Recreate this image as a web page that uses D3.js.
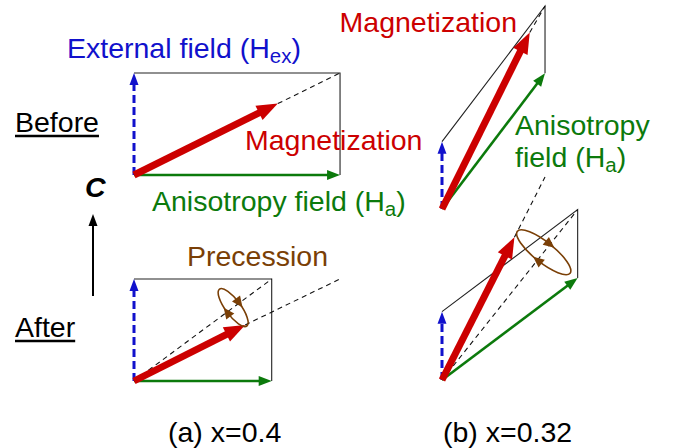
<!DOCTYPE html>
<html><head><meta charset="utf-8">
<script src="https://cdn.jsdelivr.net/npm/d3@7"></script>
<style>
html,body{margin:0;padding:0;background:#fff;}
svg{display:block;}
text{font-family:"Liberation Sans",Arial,Helvetica,sans-serif;}
</style></head>
<body>
<svg id="c" width="675" height="448"></svg>
<script>
// ---- data ----
const panelLabels = ["(a) x=0.4", "(b) x=0.32"];
const stateLabels = ["Before", "After"];
const vectorLabels = ["External field (H", "Magnetization", "Anisotropy field (H", "Precession"];
// field vectors [x, y], in units of the external field of panel (a)
const hexField      = [[0, 1.00], [0, 1.00], [0, 0.66], [0, 0.67]];
const anisoField    = [[2.02, 0], [1.35, 0], [1.01, 1.33], [1.33, 1.00]];
const magnetization = [[1.41, 0.70], [1.09, 0.55], [0.86, 1.73], [0.71, 1.40]];
// precession cone: centre as fraction of effective field, semi-axes [along, across]
const precessionFrac = [null, 0.72, null, 0.75];
const precessionAxes = [null, [0.075, 0.225], null, [0.10, 0.33]];

// ---- layout ----
const svg = d3.select("#c");
const unit = d3.scaleLinear().domain([0, 1]).range([0, 102]);
const origins = [[134, 175], [134, 381], [442, 209], [442, 380]];
const FS = 28.5;
const C = {blue: "#1111cc", red: "#cc0000", green: "#0c7a0c", brown: "#7a3f06", box: "#222"};

function pt(i, v) { return [origins[i][0] + unit(v[0]), origins[i][1] - unit(v[1])]; }
function add(a, b) { return [a[0] + b[0], a[1] + b[1]]; }

function arrow(g, p1, p2, o) {
  const dx = p2[0] - p1[0], dy = p2[1] - p1[1], L = Math.hypot(dx, dy);
  const ux = dx / L, uy = dy / L, nx = -uy, ny = ux;
  const back = [p2[0] - ux * o.hl, p2[1] - uy * o.hl];
  const end = [p2[0] - ux * o.hl * 0.7, p2[1] - uy * o.hl * 0.7];
  g.append("line").attr("x1", p1[0]).attr("y1", p1[1]).attr("x2", end[0]).attr("y2", end[1])
    .attr("stroke", o.color).attr("stroke-width", o.w)
    .attr("stroke-dasharray", o.dash || null);
  g.append("path").attr("d", d3.line()([p2, [back[0] + nx * o.hw / 2, back[1] + ny * o.hw / 2],
    [back[0] - nx * o.hw / 2, back[1] - ny * o.hw / 2]]) + "Z").attr("fill", o.color);
}

function dashed(g, p1, p2) {
  g.append("line").attr("x1", p1[0]).attr("y1", p1[1]).attr("x2", p2[0]).attr("y2", p2[1])
    .attr("stroke", "#111").attr("stroke-width", 1.1).attr("stroke-dasharray", "5,4");
}

for (let i = 0; i < 4; i++) {
  const g = svg.append("g");
  const O = origins[i];
  const hex = pt(i, hexField[i]);
  const ha = pt(i, anisoField[i]);
  const corner = pt(i, add(hexField[i], anisoField[i]));
  const m = pt(i, magnetization[i]);
  // parallelogram sides
  g.append("path").attr("d", d3.line()([hex, corner, ha])).attr("fill", "none")
    .attr("stroke", C.box).attr("stroke-width", 1.1);
  if (i % 2 === 0) {
    dashed(g, m, corner);
  } else {
    dashed(g, O, corner);
    // previous equilibrium direction
    const prev = pt(i, add(hexField[i - 1], anisoField[i - 1]));
    dashed(g, m, prev);
  }
  arrow(g, O, ha, {color: C.green, w: 2.6, hl: 13, hw: 10});
  arrow(g, O, hex, {color: C.blue, w: 3, hl: 12, hw: 9, dash: "8,4"});
  arrow(g, O, m, {color: C.red, w: 7, hl: 21, hw: 16});
  if (precessionFrac[i] !== null) {
    const f = precessionFrac[i];
    const cx = O[0] + (corner[0] - O[0]) * f, cy = O[1] + (corner[1] - O[1]) * f;
    const ang = Math.atan2(corner[1] - O[1], corner[0] - O[0]) * 180 / Math.PI;
    const a = unit(precessionAxes[i][0]), b = unit(precessionAxes[i][1]);
    const eg = g.append("g").attr("transform", `translate(${cx},${cy}) rotate(${ang})`);
    eg.append("ellipse").attr("rx", a).attr("ry", b).attr("fill", "none")
      .attr("stroke", C.brown).attr("stroke-width", 1.6);
    const hl = 11, hw = 10;
    [[a, 1], [-a, -1]].forEach(([x, s]) => {
      eg.append("path").attr("d", d3.line()([[x, s * hl / 2], [x - hw / 2, -s * hl / 2], [x + hw / 2, -s * hl / 2]]) + "Z")
        .attr("fill", C.brown);
    });
  }
}

// ---- text ----
function label(x, y, parts, color, anchor) {
  const t = svg.append("text").attr("x", x).attr("y", y).attr("fill", color)
    .attr("font-size", FS).attr("text-anchor", anchor || "start");
  parts.forEach(p => {
    const ts = t.append("tspan").text(p.t);
    if (p.sub) ts.attr("font-size", 20.5).attr("dy", 5);
    if (p.up) ts.attr("dy", -5);
  });
  return t;
}
label(67, 58, [{t: vectorLabels[0]}, {t: "ex", sub: true}, {t: ")", up: true}], C.blue);
label(245, 150, [{t: vectorLabels[1]}], C.red);
label(152, 211, [{t: vectorLabels[2]}, {t: "a", sub: true}, {t: ")", up: true}], C.green);
label(187, 266, [{t: vectorLabels[3]}], C.brown);
label(517, 32, [{t: vectorLabels[1]}], C.red, "end");
label(515, 135, [{t: "Anisotropy"}], C.green);
label(515, 167, [{t: "field (H"}, {t: "a", sub: true}, {t: ")", up: true}], C.green);

// state labels with underline
[[15, 132], [15, 337]].forEach(([x, y], k) => {
  const t = label(x, y, [{t: stateLabels[k]}], "#000");
  const w = t.node().getComputedTextLength();
  svg.append("line").attr("x1", x).attr("x2", x + w).attr("y1", y + 4).attr("y2", y + 4)
    .attr("stroke", "#000").attr("stroke-width", 2.5);
});
// c-axis
svg.append("text").attr("x", 85).attr("y", 197).attr("font-size", FS)
  .attr("font-weight", "bold").attr("font-style", "italic").text("C");
arrow(svg, [93, 296], [93, 214], {color: "#000", w: 2, hl: 12, hw: 9});

// panel captions
label(168, 442, [{t: panelLabels[0]}], "#000");
label(443, 442, [{t: panelLabels[1]}], "#000");
</script>
</body></html>
